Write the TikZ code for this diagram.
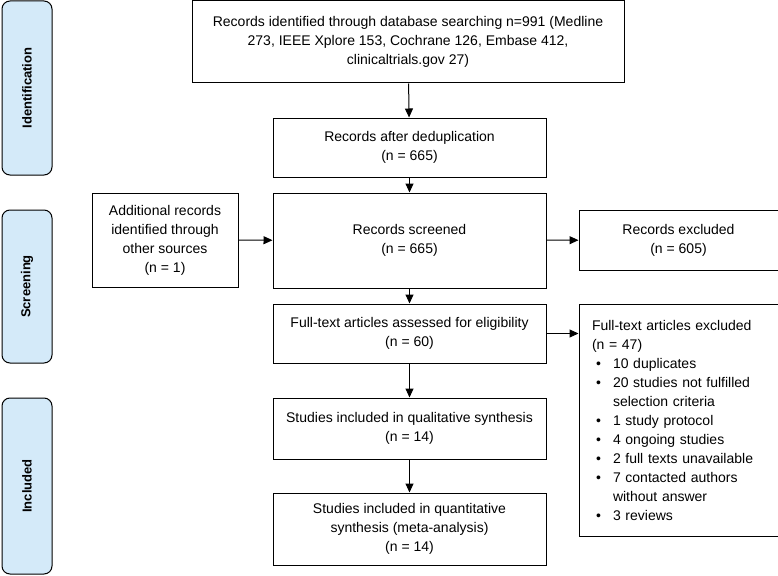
\documentclass[tikz,border=0pt]{standalone}
\usepackage{fontspec}
\setmainfont{Liberation Sans}
\usetikzlibrary{arrows.meta}

\begin{document}
\begin{tikzpicture}[x=1pt, y=-1pt,
    boxStyle/.style={draw, line width=1pt, inner sep=0pt, align=center,
        font=\fontsize{14}{19}\selectfont},
    phaseStyle/.style={draw, line width=1pt, rounded corners=8pt, fill=phaseBlue,
        minimum width=50pt, inner sep=0pt, font=\bfseries\fontsize{13}{15}\selectfont},
    arrowStyle/.style={line width=1pt, -{Triangle[length=9pt, width=8pt]}}]
    \definecolor{phaseBlue}{HTML}{D4EAF9}
    \useasboundingbox (0,0) rectangle (778,575);

    % phases
    \node[phaseStyle, minimum height=174pt](ident) at (27, 88) {\rotatebox{90}{Identification}};
    \node[phaseStyle, minimum height=153pt](screen) at (27, 286.5) {\rotatebox{90}{Screening}};
    \node[phaseStyle, minimum height=176pt](incl) at (27, 486) {\rotatebox{90}{Included}};

    % flow boxes
    \node[boxStyle, minimum width=432pt, minimum height=82pt](records) at (408, 42)
        {Records identified through database searching n=991 (Medline\\273, IEEE Xplore 153, Cochrane 126, Embase 412,\\clinicaltrials.gov 27)};
    \node[boxStyle, minimum width=273pt, minimum height=59pt](dedup) at (409.5, 147.5)
        {Records after deduplication\\(n = 665)};
    \node[boxStyle, minimum width=146pt, minimum height=94pt](extra) at (165, 240)
        {Additional records\\identified through\\other sources\\(n = 1)};
    \node[boxStyle, minimum width=273pt, minimum height=95pt](screened) at (409.5, 240.5)
        {Records screened\\(n = 665)};
    \node[boxStyle, minimum width=199pt, minimum height=60pt](excluded) at (678.5, 240)
        {Records excluded\\(n = 605)};
    \node[boxStyle, minimum width=273pt, minimum height=59pt](fulltext) at (409.5, 333.5)
        {Full-text articles assessed for eligibility\\(n = 60)};
    \node[boxStyle, minimum width=199pt, minimum height=232pt, align=left, text width=173pt](ftexcl) at (678.5, 420)
        {Full-text articles excluded\\
         (n = 47)\\
         \hspace*{4pt}\makebox[17pt][l]{•}10 duplicates\\
         \hspace*{4pt}\makebox[17pt][l]{•}20 studies not fulfilled\\
         \hspace*{21pt}selection criteria\\
         \hspace*{4pt}\makebox[17pt][l]{•}1 study protocol\\
         \hspace*{4pt}\makebox[17pt][l]{•}4 ongoing studies\\
         \hspace*{4pt}\makebox[17pt][l]{•}2 full texts unavailable\\
         \hspace*{4pt}\makebox[17pt][l]{•}7 contacted authors\\
         \hspace*{21pt}without answer\\
         \hspace*{4pt}\makebox[17pt][l]{•}3 reviews};
    \node[boxStyle, minimum width=273pt, minimum height=61pt](qual) at (409.5, 428.5)
        {Studies included in qualitative synthesis\\(n = 14)};
    \node[boxStyle, minimum width=273pt, minimum height=72pt](quant) at (409.5, 529)
        {Studies included in quantitative\\synthesis (meta-analysis)\\(n = 14)};

    \draw[arrowStyle] (records) -- (dedup);
    \draw[arrowStyle] (dedup) -- (screened);
    \draw[arrowStyle] (extra) -- (screened);
    \draw[arrowStyle] (screened) -- (excluded);
    \draw[arrowStyle] (screened) -- (fulltext);
    \draw[arrowStyle] (fulltext.east) -- (fulltext.east -| ftexcl.west);
    \draw[arrowStyle] (fulltext) -- (qual);
    \draw[arrowStyle] (qual) -- (quant);
\end{tikzpicture}
\end{document}
